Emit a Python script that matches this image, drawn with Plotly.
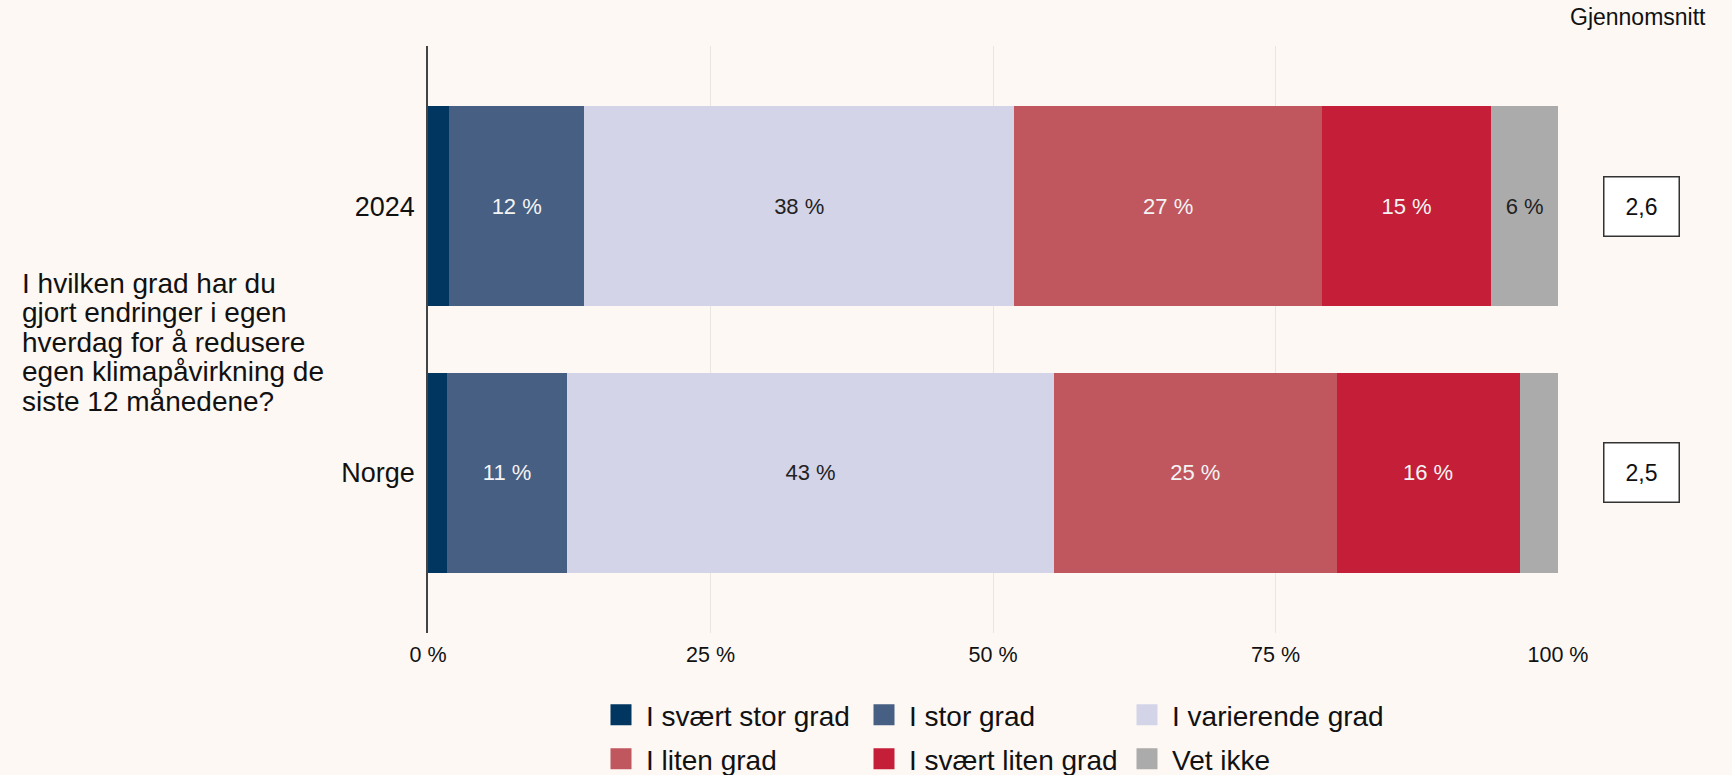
import plotly.graph_objects as go

# ---------------- data ----------------
groups = ["2024", "Norge"]
categories = ["I svært stor grad", "I stor grad", "I varierende grad",
              "I liten grad", "I svært liten grad", "Vet ikke"]
values_2024 = [1.9, 11.9, 38.1, 27.2, 15.0, 5.9]
values_norge = [1.7, 10.6, 43.1, 25.0, 16.2, 3.4]
means = ["2,6", "2,5"]
x_tickvals = [0, 25, 50, 75, 100]
x_ticktext = ["0 %", "25 %", "50 %", "75 %", "100 %"]
question_lines = ["I hvilken grad har du", "gjort endringer i egen",
                  "hverdag for å redusere", "egen klimapåvirkning de",
                  "siste 12 månedene?"]
mean_header = "Gjennomsnitt"

# ---------------- style ----------------
colors = ["#003660", "#475F83", "#D3D4E8", "#C0575F", "#C41E38", "#ABABAB"]
label_colors = ["#FFFFFF", "#F4F4F4", "#222222", "#F4F4F4", "#F4F4F4", "#222222"]
BG = "#FDF8F4"
FONT = "Liberation Sans, Arial, sans-serif"
W, H = 1732, 775
ML, MR, MT, MB = 428, 174, 46, 142
PW, PH = W - ML - MR, H - MT - MB

category_order = ["Norge", "2024"]  # bottom -> top


def px(X):
    return (X - ML) / PW


def py(Y):
    return (H - MB - Y) / PH


series = [values_2024, values_norge]

fig = go.Figure()
for i, cat in enumerate(categories):
    vals = [s[i] for s in series]
    texts = [f"{round(v)} %" if v >= 5 else "" for v in vals]
    fig.add_trace(go.Bar(
        x=vals, y=groups, orientation="h", name=cat,
        marker=dict(color=colors[i], line=dict(width=0)),
        width=0.75,
        text=texts, textposition="inside", insidetextanchor="middle",
        textfont=dict(color=label_colors[i], size=22, family=FONT),
        showlegend=False, hoverinfo="x+name",
    ))

# legend proxies (two rows -> two legends)
for i, cat in enumerate(categories):
    fig.add_trace(go.Scatter(
        x=[None], y=[None], mode="markers", name=cat,
        marker=dict(symbol="square", size=16, color=colors[i],
                    line=dict(color=colors[i], width=5)),
        legend="legend" if i < 3 else "legend2",
        showlegend=True,
    ))

annotations = []
for k, line in enumerate(question_lines):
    annotations.append(dict(
        text=line, xref="paper", yref="paper", x=px(20), y=py(283 + 29.6 * k),
        xanchor="left", yanchor="middle", showarrow=False,
        font=dict(size=28, color="#111111", family=FONT),
    ))

for g, m in zip(groups, means):
    annotations.append(dict(
        text=m, xref="paper", yref="y", x=px(1641), y=category_order.index(g),
        xanchor="center", yanchor="middle", showarrow=False,
        width=70, height=54, borderpad=2, borderwidth=1.5,
        bordercolor="#333333", bgcolor="#FFFFFF",
        font=dict(size=23, color="#111111", family=FONT),
    ))

annotations.append(dict(
    text=mean_header, xref="paper", yref="paper", x=px(1638), y=py(17),
    xanchor="center", yanchor="middle", showarrow=False,
    font=dict(size=23, color="#111111", family=FONT),
))

legend_common = dict(
    orientation="h", xanchor="left", yanchor="middle",
    font=dict(size=28, color="#111111", family=FONT),
    bgcolor="rgba(0,0,0,0)", entrywidth=208, entrywidthmode="pixels",
    itemsizing="trace", itemwidth=40, traceorder="normal",
)

fig.update_layout(
    width=W, height=H,
    margin=dict(l=ML, r=MR, t=MT, b=MB, pad=0, autoexpand=False),
    paper_bgcolor=BG, plot_bgcolor=BG,
    barmode="stack", bargap=0.25,
    font=dict(family=FONT, color="#111111"),
    xaxis=dict(
        range=[0, 100], tickvals=x_tickvals, ticktext=x_ticktext,
        showgrid=True, gridcolor="#E9E5E1", gridwidth=1.2,
        zeroline=False, showline=False, ticks="",
        tickfont=dict(size=21.5, color="#111111", family=FONT),
        ticklabelstandoff=6, fixedrange=True,
    ),
    yaxis=dict(
        categoryorder="array", categoryarray=category_order,
        range=[-0.6, 1.6], showgrid=False, zeroline=False,
        showline=True, linecolor="#444444", linewidth=1.5, ticks="",
        tickfont=dict(size=27, color="#111111", family=FONT),
        ticklabelstandoff=6, fixedrange=True,
    ),
    legend=dict(x=px(596), y=py(715), **legend_common),
    legend2=dict(x=px(596), y=py(759), **legend_common),
    annotations=annotations,
)

fig.write_html(
    "out.html",
    config={"displayModeBar": False},
    post_script="document.body.style.margin='0';document.body.style.overflow='hidden';",
)
